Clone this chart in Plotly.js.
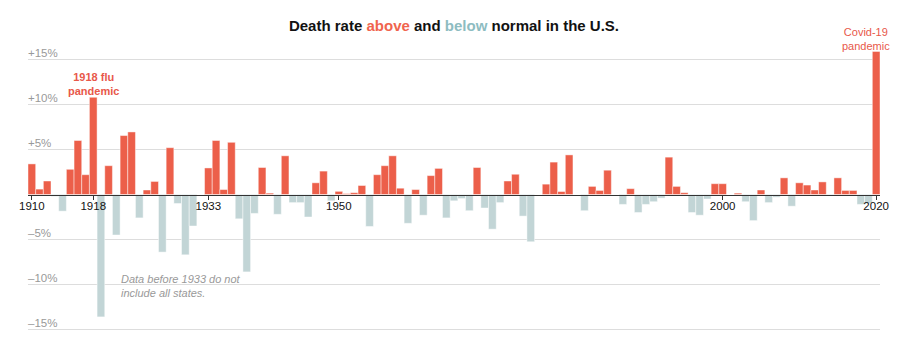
<!DOCTYPE html>
<html>
<head>
<meta charset="utf-8">
<script src="https://cdn.plot.ly/plotly-3.0.1.min.js"></script>
<style>
  html, body { margin: 0; padding: 0; background: #fff; }
  #chart { width: 921px; height: 351px; }
</style>
</head>
<body>
<div id="chart"></div>
<script>
const years = [
  1910,1911,1912,1913,1914,1915,1916,1917,1918,1919,
  1920,1921,1922,1923,1924,1925,1926,1927,1928,1929,
  1930,1931,1932,1933,1934,1935,1936,1937,1938,1939,
  1940,1941,1942,1943,1944,1945,1946,1947,1948,1949,
  1950,1951,1952,1953,1954,1955,1956,1957,1958,1959,
  1960,1961,1962,1963,1964,1965,1966,1967,1968,1969,
  1970,1971,1972,1973,1974,1975,1976,1977,1978,1979,
  1980,1981,1982,1983,1984,1985,1986,1987,1988,1989,
  1990,1991,1992,1993,1994,1995,1996,1997,1998,1999,
  2000,2001,2002,2003,2004,2005,2006,2007,2008,2009,
  2010,2011,2012,2013,2014,2015,2016,2017,2018,2019,
  2020
];
// Percent above (+) or below (-) normal death rate
const excess = [
  3.4, 0.6, 1.5, -0.2, -1.85, 2.8, 6.0, 2.2, 10.8, -13.6,
  3.2, -4.5, 6.55, 6.95, -2.6, 0.5, 1.45, -6.4, 5.2, -1.0,
  -6.7, -3.5, 0, 2.95, 6.0, 0.55, 5.8, -2.7, -8.6, -2.1,
  3.0, 0.15, -2.2, 4.3, -0.9, -0.9, -2.5, 1.3, 2.6, -0.7,
  0.35, 0.1, 0.2, 1.0, -3.55, 2.2, 3.2, 4.3, 0.7, -3.2,
  0.55, -2.3, 2.1, 2.9, -2.6, -0.7, -0.45, -1.8, 3.0, -1.5,
  -3.85, -0.9, 1.5, 2.25, -2.4, -5.25, 0, 1.15, 3.6, 0.33,
  4.4, 0, -1.8, 0.9, 0.45, 2.7, 0, -1.1, 0.65, -2.0,
  -1.1, -0.8, -0.4, 4.15, 0.9, 0.2, -2.0, -2.3, -0.5, 1.2,
  1.2, 0, 0.15, -0.8, -2.9, 0.5, -0.9, -0.3, 1.85, -1.3,
  1.3, 1.05, 0.5, 1.4, -0.1, 1.85, 0.45, 0.45, -1.1, -1.0,
  15.9
];
const xTickYears = [1910, 1918, 1933, 1950, 2000, 2020];
const yTickVals = [-15, -10, -5, 5, 10, 15];
const yTickText = ['–15%', '–10%', '–5%', '+5%', '+10%', '+15%'];

const RED = '#ec5f4a';
const BLUE = '#c2d5d6';
const NARROW = 'Liberation Sans Narrow, Liberation Sans, Arial, sans-serif';

const trace = {
  type: 'bar',
  x: years,
  y: excess,
  marker: {
    color: excess.map(v => v > 0 ? RED : BLUE),
    line: { color: 'rgba(255,255,255,0.45)', width: 1 }
  },
  hoverinfo: 'x+y'
};

const yLabelAnnotations = yTickVals.map((v, i) => ({
  x: 0, xref: 'paper', y: v, yref: 'y',
  text: yTickText[i], showarrow: false,
  xanchor: 'left', yanchor: 'bottom', xshift: -2, yshift: -1,
  font: { size: 11.5, color: '#999' }
}));

const layout = {
  width: 921,
  height: 351,
  margin: { l: 28, r: 41, t: 46, b: 17 },
  paper_bgcolor: '#fff',
  plot_bgcolor: '#fff',
  showlegend: false,
  bargap: 0,
  font: { family: 'Liberation Sans, Arial, sans-serif', color: '#333' },
  title: {
    text: "Death rate <span style='color:#f0644e'>above</span> and <span style='color:#8dbcc1'>below</span> normal in the U.S.",
    font: { family: NARROW, size: 15, color: '#121212', weight: 'bold' },
    xref: 'paper', x: 0.5, xanchor: 'center',
    yref: 'container', y: 1 - 26 / 351, yanchor: 'middle'
  },
  xaxis: {
    range: [1909.5, 2020.5],
    anchor: 'free',
    position: 15.5 / 32,
    tickvals: xTickYears,
    ticktext: xTickYears.map(String),
    ticks: 'outside', ticklen: 4, tickcolor: '#333', tickwidth: 1,
    ticklabelstandoff: -3,
    showline: true, linecolor: '#333', linewidth: 1,
    showgrid: false, zeroline: false,
    tickfont: { size: 11.5, color: '#121212' },
    fixedrange: true
  },
  yaxis: {
    range: [-15.5, 16.5],
    tickvals: yTickVals,
    showticklabels: false,
    showgrid: true, gridcolor: '#dddddd', gridwidth: 1,
    zeroline: false, showline: false, ticks: '',
    fixedrange: true
  },
  annotations: yLabelAnnotations.concat([
    {
      x: 1918, y: 12.28, xref: 'x', yref: 'y',
      text: '1918 flu<br>pandemic', showarrow: false,
      xanchor: 'center', yanchor: 'middle', align: 'center',
      font: { family: NARROW, size: 11, color: '#e8584a', weight: 'bold' }
    },
    {
      x: 2020, y: 1.026, xref: 'x', yref: 'paper',
      text: 'Covid-19<br>pandemic', showarrow: false,
      xanchor: 'center', yanchor: 'middle', xshift: -10, align: 'center',
      font: { family: NARROW, size: 11, color: '#e8584a' }
    },
    {
      x: 1921.3, y: -8.55, xref: 'x', yref: 'y',
      text: 'Data before 1933 do not<br>include all states.', showarrow: false,
      xanchor: 'left', yanchor: 'top',
      font: { family: 'Liberation Sans, Arial, sans-serif', size: 11, color: '#999', style: 'italic' },
      align: 'left'
    }
  ])
};

Plotly.newPlot('chart', [trace], layout, { displayModeBar: false, staticPlot: true });
</script>
</body>
</html>
